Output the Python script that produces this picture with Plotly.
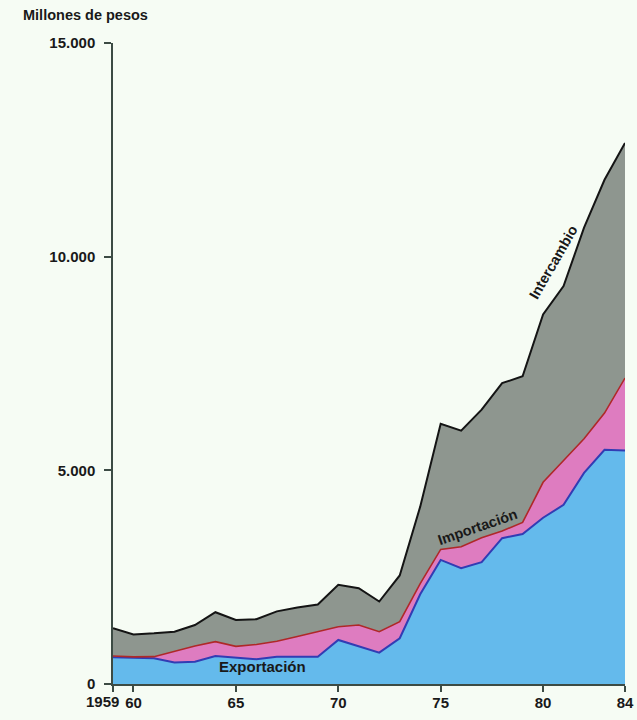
import plotly.graph_objects as go

years = list(range(1959, 1985))
exportacion = [625, 609, 602, 504, 522, 656, 621, 578, 639, 639, 639, 1030, 874, 733, 1070,
               2100, 2904, 2710, 2850, 3412, 3510, 3890, 4192, 4940, 5480, 5464]
importacion = [656, 635, 640, 770, 890, 990, 880, 925, 1000, 1110, 1225, 1340, 1380, 1225, 1460,
               2350, 3150, 3210, 3420, 3580, 3780, 4720, 5230, 5740, 6340, 7160]
intercambio = [1305, 1160, 1185, 1225, 1380, 1680, 1500, 1515, 1700, 1790, 1860, 2320, 2240, 1930, 2540,
               4150, 6090, 5930, 6420, 7040, 7200, 8650, 9310, 10680, 11800, 12660]

y_tickvals = [0, 5000, 10000, 15000]
y_ticktext = ["0", "5.000", "10.000", "15.000"]
x_tickvals = [1959, 1960, 1965, 1970, 1975, 1980, 1984]
x_ticktext = ["", "60", "65", "70", "75", "80", "84"]

BG = "rgb(246,252,244)"
FONT = "Liberation Sans, Arial, sans-serif"
TXT = "rgb(25,25,25)"

def f(size):
    return dict(family=FONT, size=size, color=TXT, weight="bold")

fig = go.Figure()
fig.add_trace(go.Scatter(x=years, y=exportacion, mode="lines", fill="tozeroy",
                         fillcolor="rgb(100,186,236)", line=dict(color="rgb(50,60,180)", width=2),
                         name="Exportación"))
fig.add_trace(go.Scatter(x=years, y=importacion, mode="lines", fill="tonexty",
                         fillcolor="rgb(222,124,192)", line=dict(color="rgb(175,40,40)", width=1.6),
                         name="Importación"))
fig.add_trace(go.Scatter(x=years, y=intercambio, mode="lines", fill="tonexty",
                         fillcolor="rgb(142,150,143)", line=dict(color="rgb(20,20,20)", width=2),
                         name="Intercambio"))

axis_color = "rgb(60,75,68)"
fig.update_layout(
    width=637, height=720,
    margin=dict(l=113, r=12, t=43, b=36, autoexpand=False),
    paper_bgcolor=BG, plot_bgcolor=BG,
    showlegend=False,
    font=f(15),
    xaxis=dict(range=[1959, 1984], tickvals=x_tickvals, ticktext=x_ticktext, automargin=False,
               showgrid=False, zeroline=False, showline=True, linecolor=axis_color, linewidth=1.5,
               ticks="outside", ticklen=6, tickcolor=axis_color, tickwidth=1.5,
               ticklabelstandoff=-2, tickfont=f(15)),
    yaxis=dict(range=[0, 15000], tickvals=y_tickvals, ticktext=y_ticktext, automargin=False,
               showgrid=False, zeroline=False, showline=True, linecolor=axis_color, linewidth=1.5,
               ticks="outside", ticklen=7, tickcolor=axis_color, tickwidth=1.5,
               ticklabelstandoff=6, tickfont=f(15)),
)

fig.add_annotation(text="Millones de pesos", xref="paper", yref="paper",
                   x=-0.18, y=1.044, xanchor="left", yanchor="middle", showarrow=False,
                   font=f(14.5))
fig.add_annotation(text="1959", xref="x", yref="paper", x=1959, y=0, xanchor="right", yanchor="top",
                   xshift=8, yshift=-7, showarrow=False, font=f(15))
fig.add_annotation(text="Exportación", x=1966.3, y=400, showarrow=False, font=f(15))
fig.add_annotation(text="Importación", x=1976.8, y=3680, textangle=-19, showarrow=False, font=f(14.5))
fig.add_annotation(text="Intercambio", x=1980.5, y=9880, textangle=-60, showarrow=False, font=f(14.5))

fig.write_html("out.html", config={"displayModeBar": False},
               post_script="document.body.style.margin='0';document.body.style.overflow='hidden';"
                           "document.body.style.background='" + BG + "';")
